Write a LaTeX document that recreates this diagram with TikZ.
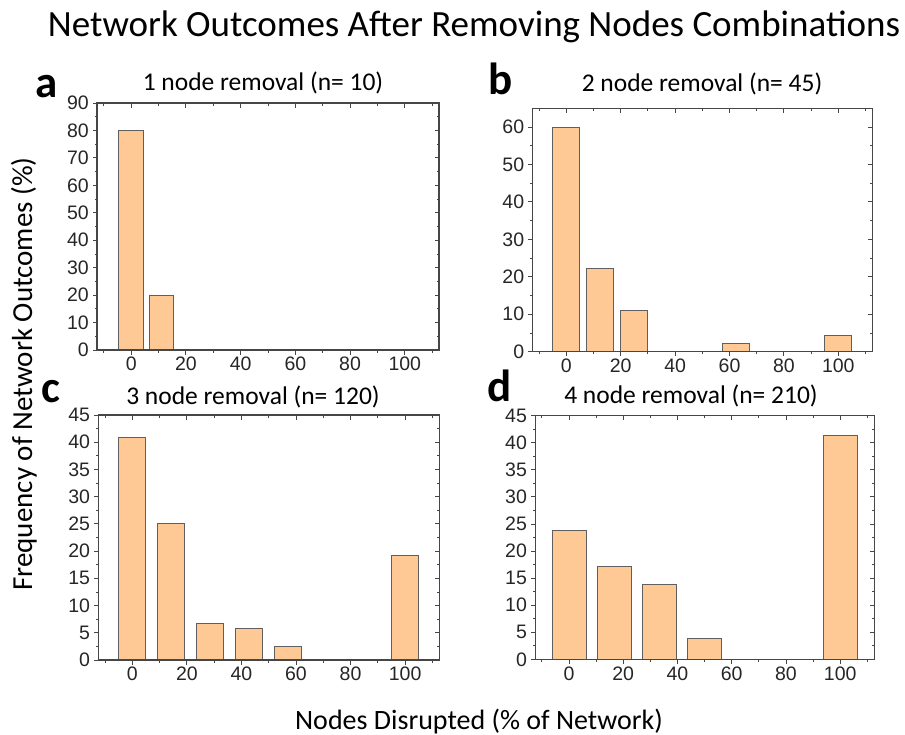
\documentclass[tikz,border=0pt]{standalone}
\usepackage{fontspec}
\setmainfont{Carlito}
\newfontfamily\tickfont{Liberation Sans}
\usetikzlibrary{positioning}
\definecolor{barfill}{RGB}{255,201,150}
\definecolor{baredge}{RGB}{95,95,95}
\definecolor{axisgray}{RGB}{70,70,70}

\tikzset{
  axisline/.style={draw=axisgray, line width=1.2pt},
  tickline/.style={draw=axisgray, line width=0.9pt},
  bar/.style={fill=barfill, draw=baredge, line width=0.9pt},
  ticklabel/.style={font=\tickfont\fontsize{19.5}{19.5}\selectfont, inner sep=0pt, text=black!85},
  paneltitle/.style={font=\fontsize{25.5}{25.5}\selectfont, anchor=base},
  panelletter/.style={font=\bfseries\fontsize{45}{45}\selectfont, anchor=base west, inner sep=0pt, text depth=0pt},
  axistitle/.style={font=\fontsize{28}{28}\selectfont, anchor=base},
}

% frame, ticks and tick labels of one histogram
% #1 name, #2 top of frame, #3 last y label, #4 y step
\newcommand{\histaxes}[4]{
  \draw[axisline] (-12.5,0) rectangle (112.5,#2);
  \foreach \t in {0,20,...,100} {
    \draw[tickline] (\t,0) -- ++(0,-4.5pt);
    \draw[tickline] (\t,#2) -- ++(0,-4.5pt);
    \node[ticklabel, anchor=north] (#1x\t) at ([yshift=-7pt]\t,0) {\t};
  }
  \foreach \t in {-10,10,...,110} {
    \draw[tickline] (\t,0) -- ++(0,-2.5pt);
    \draw[tickline] (\t,#2) -- ++(0,-2.5pt);
  }
  \foreach \t in {0,#4,...,#3} {
    \draw[tickline] (-12.5,\t) -- ++(-4.5pt,0);
    \draw[tickline] (112.5,\t) -- ++(-4.5pt,0);
    \node[ticklabel, anchor=east] (#1y\t) at ([xshift=-8pt]-12.5,\t) {\t};
    \pgfmathsetmacro\m{\t+#4/2}
    \ifdim\m pt<#2pt
      \draw[tickline] (-12.5,\m) -- ++(-2.5pt,0);
      \draw[tickline] (112.5,\m) -- ++(-2.5pt,0);
    \fi
  }
}

\begin{document}
\begin{tikzpicture}
  \useasboundingbox (0,0) rectangle (905pt,-735pt);

  \node[axistitle, font=\fontsize{37}{37}\selectfont] (title) at (474pt,-37pt)
    {Network Outcomes After Removing Nodes Combinations};
  \node[axistitle, font=\fontsize{29}{29}\selectfont, rotate=90] (ylabel) at (32pt,-374pt)
    {Frequency of Network Outcomes (\%)};
  \node[axistitle] (xlabel) at (479pt,-729pt) {Nodes Disrupted (\% of Network)};

  % a
  \node[panelletter] (la) at (35pt,-98pt) {a};
  \node[paneltitle] (ta) at (263pt,-91pt) {1 node removal (n= 10)};
  \begin{scope}[shift={(131.2pt,-350pt)}, x=2.736pt, y=2.744pt]
    \foreach \c/\h in {0/80, 11.1/20}
      \draw[bar] (\c-4.5,0) rectangle (\c+4.5,\h);
    \histaxes{a}{90}{90}{10}
  \end{scope}

  % b
  \node[panelletter] (lb) at (488pt,-95pt) {b};
  \node[paneltitle] (tb) at (702pt,-92pt) {2 node removal (n= 45)};
  \begin{scope}[shift={(566.3pt,-351.7pt)}, x=2.72pt, y=3.745pt]
    \foreach \c/\h in {0/60, 12.5/22.2, 25/11.1, 62.5/2.2, 100/4.4}
      \draw[bar] (\c-5,0) rectangle (\c+5,\h);
    \histaxes{b}{65}{60}{10}
  \end{scope}

  % c
  \node[panelletter] (lc) at (41pt,-402pt) {c};
  \node[paneltitle] (tc) at (253pt,-404pt) {3 node removal (n= 120)};
  \begin{scope}[shift={(132.3pt,-660pt)}, x=2.728pt, y=5.444pt]
    \foreach \c/\h in {0/40.83, 14.29/25, 28.57/6.67, 42.86/5.83, 57.14/2.5, 100/19.17}
      \draw[bar] (\c-5,0) rectangle (\c+5,\h);
    \histaxes{c}{45}{45}{5}
  \end{scope}

  % d
  \node[panelletter] (ld) at (487pt,-401pt) {d};
  \node[paneltitle] (td) at (691pt,-403pt) {4 node removal (n= 210)};
  \begin{scope}[shift={(569pt,-659.3pt)}, x=2.712pt, y=5.413pt]
    \foreach \c/\h in {0/23.81, 16.67/17.14, 33.33/13.81, 50/3.81, 100/41.43}
      \draw[bar] (\c-6.25,0) rectangle (\c+6.25,\h);
    \histaxes{d}{45}{45}{5}
  \end{scope}
\end{tikzpicture}
\end{document}
